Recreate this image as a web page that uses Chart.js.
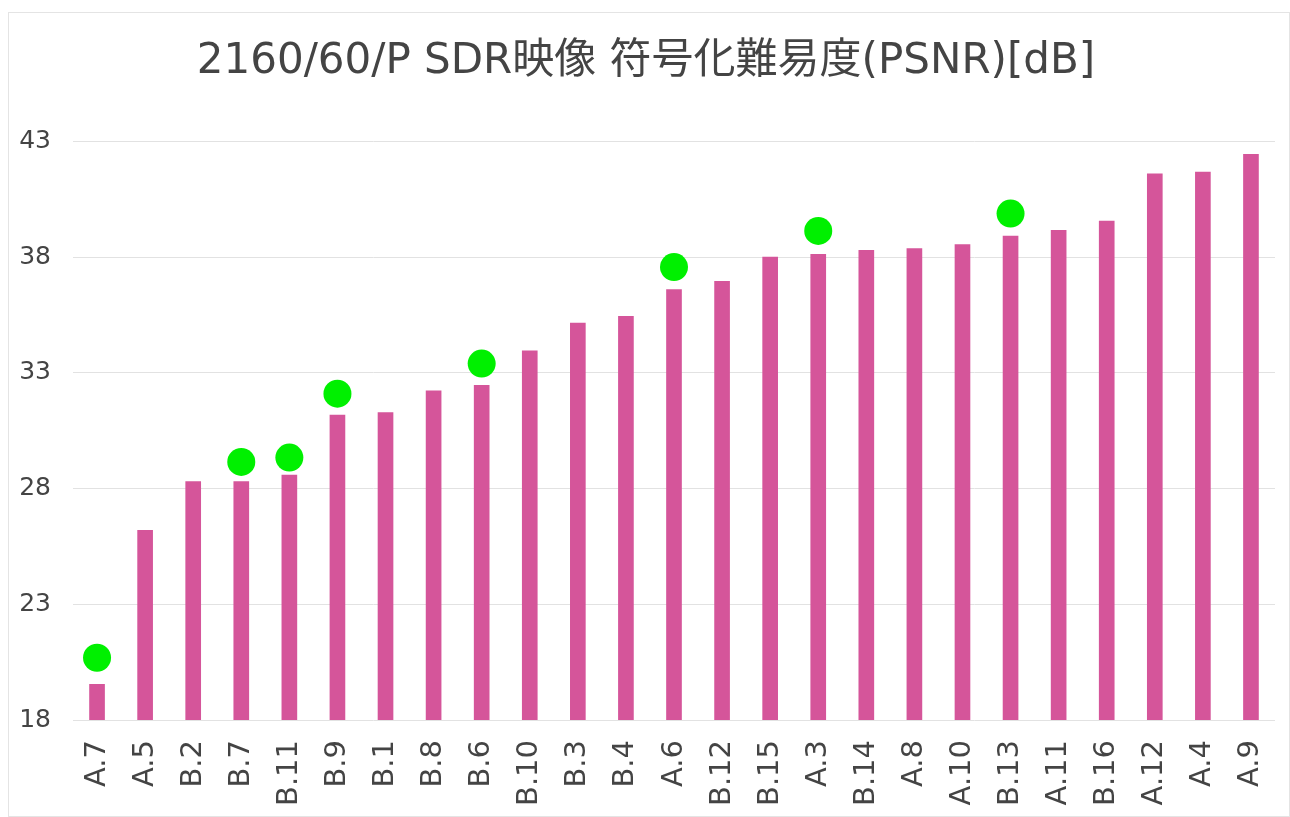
<!DOCTYPE html>
<html>
<head>
<meta charset="utf-8">
<script src="https://cdn.jsdelivr.net/npm/chart.js"></script>
<style>
  html,body{margin:0;padding:0;background:#fff;}
  #card{position:absolute;left:8px;top:12px;width:1280px;height:803px;border:1px solid #e4e4e4;background:#fff;}
  #card canvas{display:block;}
</style>
</head>
<body>
<div id="card"><canvas id="chart" width="1280" height="803"></canvas></div>
<script>
  // categories, sorted by difficulty
  const labels = ['A.7','A.5','B.2','B.7','B.11','B.9','B.1','B.8','B.6','B.10','B.3','B.4','A.6','B.12','B.15','A.3','B.14','A.8','A.10','B.13','A.11','B.16','A.12','A.4','A.9'];
  // PSNR [dB] per sequence
  const psnr = [19.54, 26.2, 28.3, 28.3, 28.58, 31.17, 31.28, 32.22, 32.46, 33.95, 35.15, 35.44, 36.6, 36.95, 38.0, 38.12, 38.29, 38.37, 38.54, 38.91, 39.16, 39.56, 41.6, 41.67, 42.44];
  // highlighted sequences (green markers)
  const marked = [20.69, null, null, 29.15, 29.34, 32.1, null, null, 33.4, null, null, null, 37.57, null, null, 39.13, null, null, null, 39.88, null, null, null, null, null];
  const yTicks = [18, 23, 28, 33, 38, 43];

  const font = "'DejaVu Sans','Noto Sans CJK JP',sans-serif";
  const barColor = '#d5559a';
  const dotColor = '#00f000';

  new Chart(document.getElementById('chart').getContext('2d'), {
    type: 'bar',
    data: {
      labels: labels,
      datasets: [
        {type:'line', data: marked, showLine:false, order:0,
         pointRadius:14, pointHoverRadius:14, pointBackgroundColor:dotColor, pointBorderWidth:0, borderColor:dotColor},
        {type:'bar', data: psnr, backgroundColor: barColor, barThickness:15, order:1}
      ]
    },
    options: {
      responsive:false, animation:false,
      layout:{padding:{top:0,right:6,bottom:0,left:0}},
      plugins:{
        legend:{display:false},
        tooltip:{enabled:false},
        title:{display:true, text:'2160/60/P SDR映像 符号化難易度(PSNR)[dB]', color:'#444',
               font:{family:font, size:42, weight:'normal'}, padding:{top:24,bottom:54}}
      },
      scales:{
        x:{
          grid:{display:false, drawTicks:false},
          border:{display:false},
          ticks:{color:'#444', font:{family:font, size:29}, minRotation:90, maxRotation:90, autoSkip:false, padding:20},
          afterFit:(s)=>{ s.height = 96; s.paddingLeft = 0; s.paddingRight = 0; }
        },
        y:{
          min:18, max:43,
          afterBuildTicks:(s)=>{ s.ticks = yTicks.map(v=>({value:v})); },
          grid:{color:'#e2e2e2', drawTicks:false},
          border:{display:false},
          ticks:{color:'#444', font:{family:font, size:25}, padding:22},
          afterFit:(s)=>{ s.width = 64; }
        }
      }
    }
  });
</script>
</body>
</html>
